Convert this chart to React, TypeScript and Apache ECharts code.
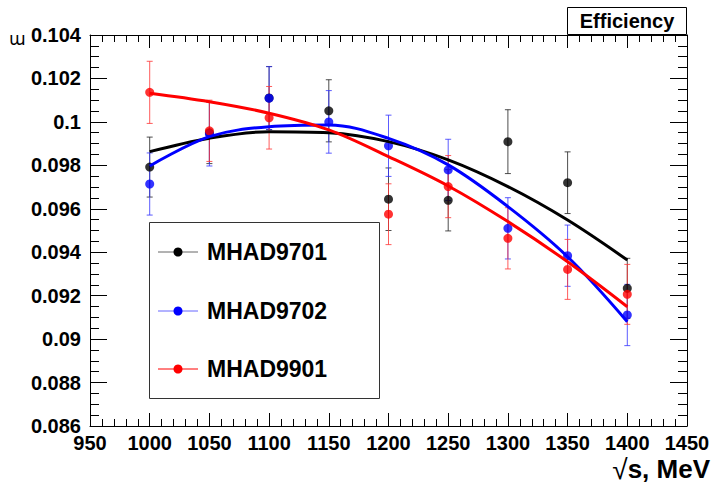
import React, { useEffect, useRef } from "react";
import * as echarts from "echarts";

const energies = [1000, 1050, 1100, 1150, 1200, 1250, 1300, 1350, 1400];

const mhad9701 = [0.09792, 0.0995, 0.1011, 0.10051, 0.09644, 0.09639, 0.09909, 0.0972, 0.09234];
const mhad9701Err = [0.00138, 0.00142, 0.00145, 0.00143, 0.00144, 0.00141, 0.00147, 0.00142, 0.00138];
const mhad9702 = [0.09714, 0.09944, 0.10109, 0.1, 0.0989, 0.09779, 0.0951, 0.09384, 0.09111];
const mhad9702Err = [0.00143, 0.00147, 0.00145, 0.00144, 0.00141, 0.00141, 0.00141, 0.00141, 0.00141];
const mhad9901 = [0.10136, 0.09959, 0.10019, null, 0.09575, 0.09702, 0.09464, 0.09321, 0.09206];
const mhad9901Err = [0.00143, 0.00141, 0.00144, null, 0.0014, 0.00143, 0.00141, 0.00138, 0.00138];

const fitX = [1000, 1050, 1100, 1150, 1200, 1250, 1300, 1350, 1400];
const fit9701 = [0.09863, 0.09925, 0.09955, 0.0995, 0.09909, 0.09825, 0.09702, 0.09548, 0.09364];
const fit9702 = [0.09797, 0.09932, 0.09978, 0.09986, 0.09924, 0.09802, 0.0961, 0.09379, 0.0908];
const fit9901 = [0.10132, 0.10093, 0.1004, 0.09963, 0.0984, 0.09705, 0.09541, 0.09356, 0.09149];

const xTicks = { min: 950, max: 1450, interval: 50 };
const yTicks = { min: 0.086, max: 0.104, interval: 0.002 };

const FONT = "'Liberation Sans', Arial, Helvetica, sans-serif";

function errData(vals: (number | null)[], errs: (number | null)[]) {
  const out: number[][] = [];
  vals.forEach((v, i) => {
    if (v != null && errs[i] != null) out.push([energies[i], v - (errs[i] as number), v + (errs[i] as number)]);
  });
  return out;
}
function ptData(vals: (number | null)[]) {
  const out: number[][] = [];
  vals.forEach((v, i) => {
    if (v != null) out.push([energies[i], v]);
  });
  return out;
}
function fitData(vals: number[]) {
  return fitX.map((x, i) => [x, vals[i]]);
}

function errSeries(name: string, data: number[][], color: string) {
  return {
    type: "custom",
    name: name + "_err",
    data,
    renderItem: (params: any, api: any) => {
      const x = api.value(0);
      const lo = api.coord([x, api.value(1)]);
      const hi = api.coord([x, api.value(2)]);
      const style = { stroke: color, lineWidth: 1, opacity: 0.8 };
      const c = 3;
      return {
        type: "group",
        children: [
          { type: "line", shape: { x1: lo[0], y1: lo[1], x2: hi[0], y2: hi[1] }, style },
          { type: "line", shape: { x1: lo[0] - c, y1: lo[1], x2: lo[0] + c, y2: lo[1] }, style },
          { type: "line", shape: { x1: hi[0] - c, y1: hi[1], x2: hi[0] + c, y2: hi[1] }, style },
        ],
      };
    },
  };
}
function ptSeries(name: string, data: number[][], color: string) {
  return {
    type: "scatter",
    name,
    data,
    symbol: "circle",
    symbolSize: 9,
    itemStyle: { color },
  };
}
function fitSeries(name: string, data: number[][], color: string) {
  return {
    type: "line",
    name: name + "_fit",
    data,
    smooth: 0.35,
    showSymbol: false,
    symbol: "none",
    lineStyle: { color, width: 3 },
  };
}

const axisLine = { show: true, lineStyle: { color: "#000", width: 1 } };
const labelStyle = { fontSize: 20, fontWeight: "bold", color: "#000", fontFamily: FONT };

function fmtY(v: number) {
  return String(parseFloat(v.toFixed(4)));
}
function fmtX(v: number) {
  return String(Math.round(v));
}

export default function App() {
  const ref = useRef<HTMLDivElement>(null);
  useEffect(() => {
    if (!ref.current) return;
    const chart = echarts.init(ref.current, undefined, { renderer: "svg" });
    const legendItems = [
      { name: "MHAD9701", color: "#000", line: "#666", y: 252 },
      { name: "MHAD9702", color: "#0000ff", line: "#6666ff", y: 311 },
      { name: "MHAD9901", color: "#ff0000", line: "#ff0000", y: 369 },
    ];
    const legendGraphics: any[] = [
      {
        type: "rect",
        shape: { x: 149.5, y: 222.5, width: 230, height: 176 },
        style: { fill: "#fff", stroke: "#333", lineWidth: 1 },
        z: 100,
      },
    ];
    legendItems.forEach((it) => {
      legendGraphics.push({
        type: "line",
        shape: { x1: 158, y1: it.y, x2: 198, y2: it.y },
        style: { stroke: it.line, lineWidth: 1 },
        z: 101,
      });
      legendGraphics.push({
        type: "circle",
        shape: { cx: 178, cy: it.y, r: 4.5 },
        style: { fill: it.color },
        z: 101,
      });
      legendGraphics.push({
        type: "text",
        x: 207,
        y: it.y,
        style: {
          text: it.name,
          fontSize: 23,
          fontWeight: "bold",
          fontFamily: FONT,
          fill: "#000",
          verticalAlign: "middle",
        },
        z: 101,
      });
    });

    chart.setOption({
      animation: false,
      backgroundColor: "#fff",
      grid: { left: 90, right: 29, top: 35, bottom: 60 },
      xAxis: [
        {
          type: "value",
          position: "bottom",
          ...xTicks,
          axisLine,
          axisTick: { show: true, inside: true, length: 13, lineStyle: { color: "#000" } },
          minorTick: { show: true, splitNumber: 5, length: 7, lineStyle: { color: "#000" } },
          splitLine: { show: false },
          axisLabel: { ...labelStyle, margin: 7, formatter: fmtX },
        },
        {
          type: "value",
          position: "top",
          ...xTicks,
          axisLine,
          axisTick: { show: true, inside: true, length: 13, lineStyle: { color: "#000" } },
          minorTick: { show: true, splitNumber: 5, length: 7, lineStyle: { color: "#000" } },
          splitLine: { show: false },
          axisLabel: { show: false },
        },
      ],
      yAxis: [
        {
          type: "value",
          position: "left",
          ...yTicks,
          axisLine,
          axisTick: { show: true, inside: true, length: 17, lineStyle: { color: "#000" } },
          minorTick: { show: true, splitNumber: 4, length: 9, lineStyle: { color: "#000" } },
          splitLine: { show: false },
          axisLabel: { ...labelStyle, margin: 9, formatter: fmtY },
        },
        {
          type: "value",
          position: "right",
          ...yTicks,
          axisLine,
          axisTick: { show: true, inside: true, length: 17, lineStyle: { color: "#000" } },
          minorTick: { show: true, splitNumber: 4, length: 9, lineStyle: { color: "#000" } },
          splitLine: { show: false },
          axisLabel: { show: false },
        },
      ],
      series: [
        errSeries("MHAD9701", errData(mhad9701, mhad9701Err), "#222"),
        ptSeries("MHAD9701", ptData(mhad9701), "#000"),
        fitSeries("MHAD9701", fitData(fit9701), "#000"),
        errSeries("MHAD9702", errData(mhad9702, mhad9702Err), "#3333ff"),
        ptSeries("MHAD9702", ptData(mhad9702), "#0000ff"),
        fitSeries("MHAD9702", fitData(fit9702), "#0000ff"),
        errSeries("MHAD9901", errData(mhad9901, mhad9901Err), "#ff3333"),
        ptSeries("MHAD9901", ptData(mhad9901), "#ff0000"),
        fitSeries("MHAD9901", fitData(fit9901), "#ff0000"),
      ],
      graphic: [
        ...legendGraphics,
        {
          type: "rect",
          shape: { x: 567.5, y: 7.5, width: 119, height: 27 },
          style: { fill: "#fff", stroke: "#000", lineWidth: 1 },
          z: 100,
        },
        {
          type: "text",
          x: 627,
          y: 21,
          style: {
            text: "Efficiency",
            fontSize: 20,
            fontWeight: "bold",
            fontFamily: FONT,
            fill: "#000",
            align: "center",
            verticalAlign: "middle",
          },
          z: 101,
        },
        {
          type: "text",
          x: 9,
          y: 39,
          style: {
            text: "ɯ",
            fontSize: 17,
            fontFamily: "'DejaVu Sans', sans-serif",
            fill: "#000",
            align: "left",
            verticalAlign: "middle",
          },
        },
        {
          type: "text",
          x: 710,
          y: 469,
          style: {
            text: "{a|√}{b|s, MeV}",
            align: "right",
            verticalAlign: "middle",
            rich: {
              a: { fontSize: 28, fontFamily: FONT, fill: "#000", fontWeight: "normal" },
              b: { fontSize: 26, fontFamily: FONT, fill: "#000", fontWeight: "bold" },
            },
          },
        },
      ],
    });
    return () => chart.dispose();
  }, []);
  return (
    <div
      ref={ref}
      style={{ position: "absolute", left: 0, top: 0, width: 716, height: 486 }}
    />
  );
}
